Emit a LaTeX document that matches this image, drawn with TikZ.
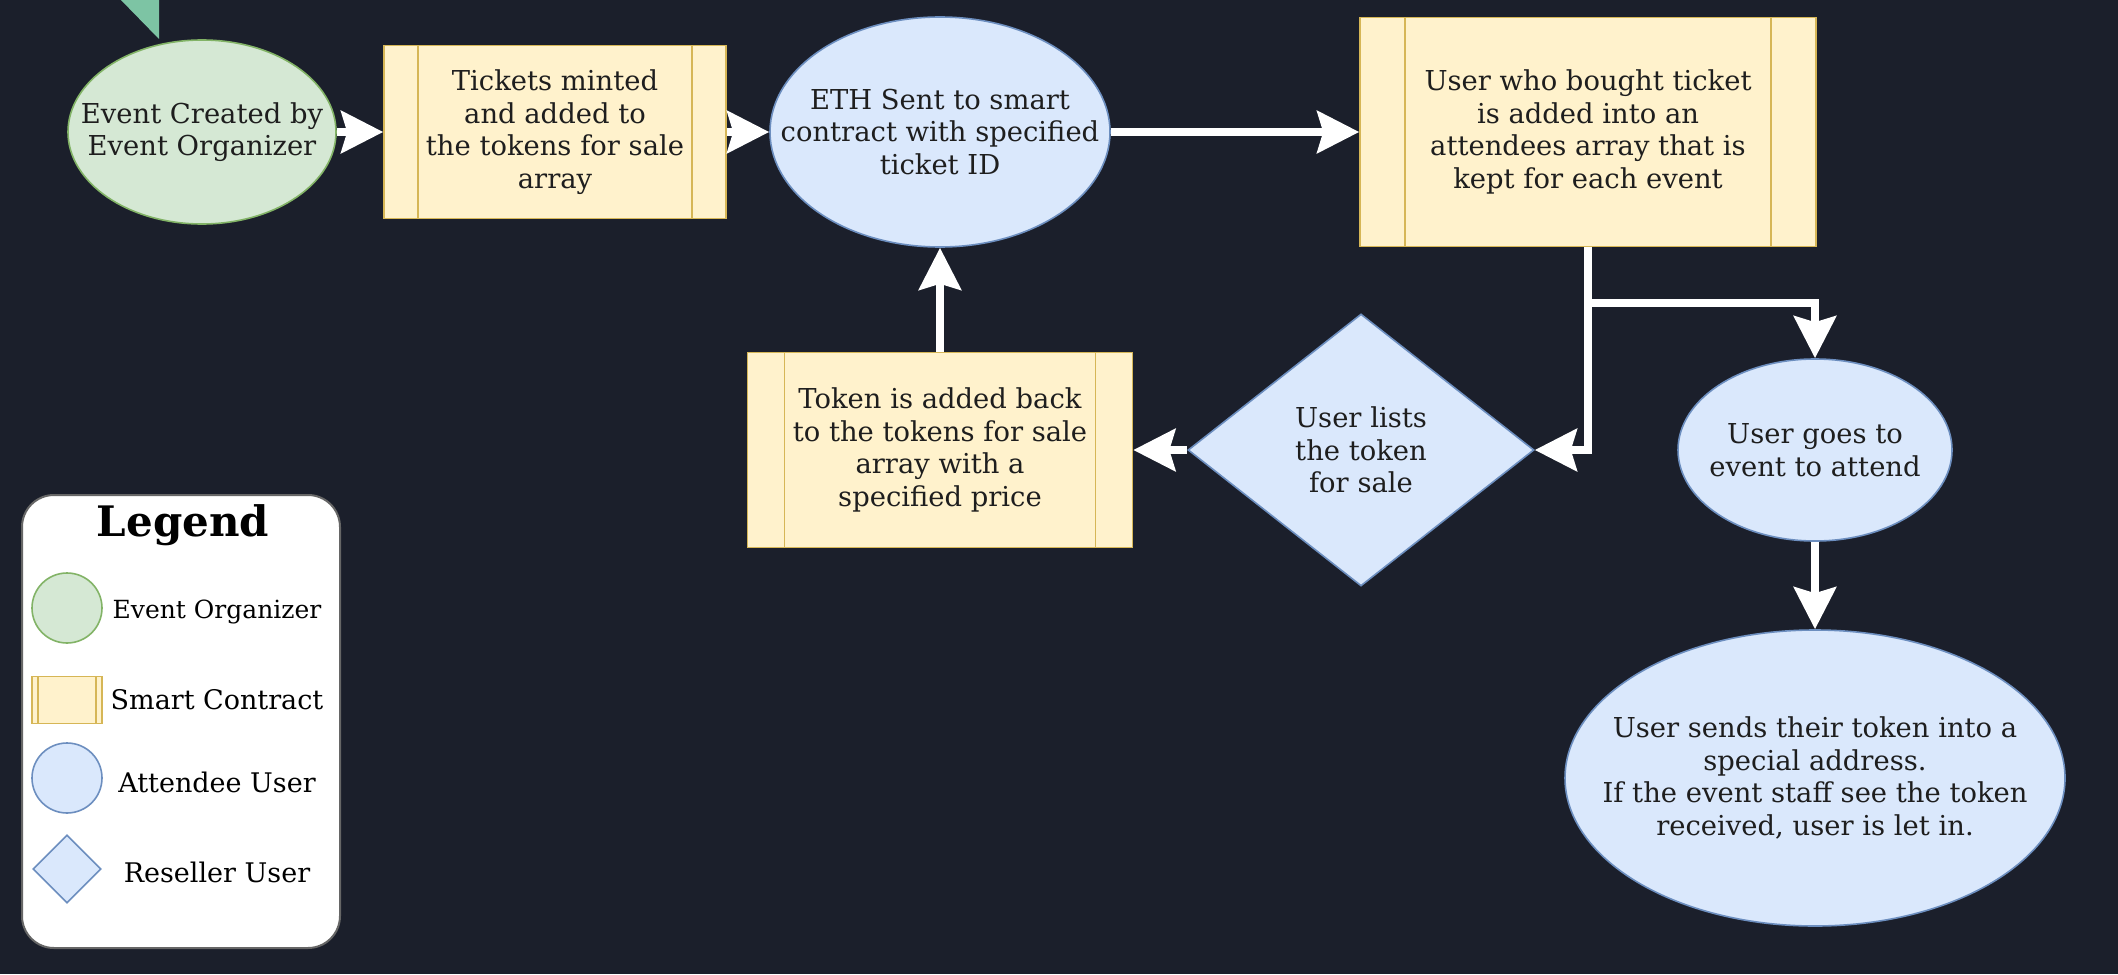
\documentclass[tikz,border=0pt]{standalone}
\usepackage{fontspec}
\setmainfont{DejaVu Serif}
\usetikzlibrary{shapes.geometric,arrows.meta}
\definecolor{bg}{HTML}{1B1F2B}
\definecolor{gfill}{HTML}{D5E8D4}
\definecolor{gdraw}{HTML}{82B366}
\definecolor{yfill}{HTML}{FFF2CC}
\definecolor{ydraw}{HTML}{D6B656}
\definecolor{bfill}{HTML}{DAE8FC}
\definecolor{bdraw}{HTML}{6C8EBF}
\definecolor{mint}{HTML}{7DC4A4}
\definecolor{txt}{HTML}{1E1E1E}
\begin{document}
\begin{tikzpicture}[x=0.5pt,y=-0.5pt,
  txtn/.style={font=\fontsize{13.7}{16.3}\selectfont, text=txt, align=center, inner sep=0pt},
  shp/.style={inner sep=0pt, line width=0.8pt},
  greenn/.style={shp, fill=gfill, draw=gdraw},
  bluen/.style={shp, fill=bfill, draw=bdraw},
  proc/.style={txtn, shp, rectangle, fill=yfill, draw=ydraw, path picture={
     \draw[ydraw, line width=0.8pt] ([xshift=#1]path picture bounding box.north west) -- ([xshift=#1]path picture bounding box.south west);
     \draw[ydraw, line width=0.8pt] ([xshift=-#1]path picture bounding box.north east) -- ([xshift=-#1]path picture bounding box.south east);}},
  flow/.style={draw=white, line width=4pt, -{Stealth[length=21pt,width=21pt,inset=3pt]}},
  legtxt/.style={font=\fontsize{13.5}{16}\selectfont, text=black, inner sep=0pt},
]
\useasboundingbox (0,0) rectangle (2118,974);
\fill[bg] (0,0) rectangle (2118,974);
\fill[mint] (119,-2) -- (159,-2) -- (159,39) -- cycle;

% main shapes
\node[ellipse, greenn, minimum width=134pt, minimum height=92pt] (ev) at (202,132) {};
\node[txtn] (evt) at (ev) {Event Created by\\Event Organizer};

\node[proc=17pt, minimum width=171pt, minimum height=86.5pt] (tm) at (555,132) {Tickets minted\\and added to\\the tokens for sale\\array};

\node[ellipse, bluen, minimum width=170pt, minimum height=115pt] (eth) at (940,132) {};
\node[txtn] (etht) at (eth) {ETH Sent to smart\\contract with specified\\ticket ID};

\node[proc=22.5pt, minimum width=228pt, minimum height=114.5pt] (ub) at (1588,132) {User who bought ticket\\is added into an\\attendees array that is\\kept for each event};

\node[diamond, aspect=1.27, bluen, minimum width=173pt, minimum height=136pt] (ul) at (1361,450) {};
\node[txtn] (ult) at (ul) {User lists\\the token\\for sale};

\node[proc=18.5pt, minimum width=192.5pt, minimum height=97.5pt] (tk) at (940,450) {Token is added back\\to the tokens for sale\\array with a\\specified price};

\node[ellipse, bluen, minimum width=137pt, minimum height=91pt] (ug) at (1815,450) {};
\node[txtn] (ugt) at (ug) {User goes to\\event to attend};

\node[ellipse, bluen, minimum width=250pt, minimum height=148pt] (us) at (1815,778) {};
\node[txtn] (ust) at (us) {User sends their token into a\\special address.\\If the event staff see the token\\received, user is let in.};

% connectors
\draw[flow] (ev) -- (tm);
\draw[flow] (tm) -- (eth);
\draw[flow] (eth) -- (ub);
\draw[flow] (ub.south) |- (ul.east);
\coordinate (br) at ([yshift=-28pt]ub.south);
\draw[flow] (br) -| (ug.north);
\draw[flow] (ul) -- (tk);
\draw[flow] (tk) -- (eth);
\draw[flow] (ug) -- (us);

% legend
\node[draw=black!60, fill=white, rounded corners=16pt, minimum width=159pt, minimum height=226.5pt, line width=1pt] (leg) at (181,721.5) {};
\node[font=\bfseries\fontsize{21}{25}\selectfont, text=black, inner sep=0pt] (legt) at (183,525) {Legend};
\node[circle, greenn, minimum size=35pt] (lg1) at (67,608) {};
\node[legtxt, font=\fontsize{12.5}{15}\selectfont] (lt1) at (217,612) {Event Organizer};
\node[rectangle, fill=yfill, draw=ydraw, shp, minimum width=35pt, minimum height=23.5pt, path picture={
     \draw[ydraw, line width=0.8pt] ([xshift=3pt]path picture bounding box.north west) -- ([xshift=3pt]path picture bounding box.south west);
     \draw[ydraw, line width=0.8pt] ([xshift=-3pt]path picture bounding box.north east) -- ([xshift=-3pt]path picture bounding box.south east);}] (lg2) at (67,700) {};
\node[legtxt] (lt2) at (217,700) {Smart Contract};
\node[circle, bluen, minimum size=35pt] (lg3) at (67,778) {};
\node[legtxt] (lt3) at (217,782) {Attendee User};
\node[diamond, bluen, minimum width=34pt, minimum height=34pt] (lg4) at (67,869) {};
\node[legtxt] (lt4) at (217,872) {Reseller User};
\end{tikzpicture}
\end{document}
